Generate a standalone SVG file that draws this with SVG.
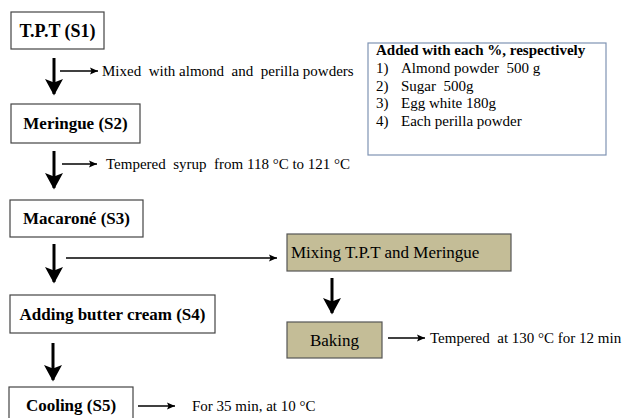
<svg xmlns="http://www.w3.org/2000/svg" width="623" height="418" viewBox="0 0 623 418">
<defs>
<marker id="big" markerWidth="6" markerHeight="6" refX="5" refY="3" orient="auto" markerUnits="strokeWidth">
<path d="M0,0 L5.5,3 L0,6 L1.2,3 Z" fill="#000"/>
</marker>
<marker id="small" markerWidth="10" markerHeight="8" refX="8" refY="4" orient="auto" markerUnits="userSpaceOnUse">
<path d="M0,0.5 L8,4 L0,7.5 L1.5,4 Z" fill="#000"/>
</marker>
</defs>
<style>
.box{fill:#fff;stroke:#444;stroke-width:1.2}
.khaki{fill:#c4bd97;stroke:#555;stroke-width:1.2}
.note{fill:#fff;stroke:#7f93b3;stroke-width:1.2}
.t{font-family:"Liberation Serif","Times New Roman",serif;fill:#000;white-space:pre}
.b{font-weight:bold;font-size:17px}
.s{font-size:15px}
.m{font-size:17px}
.big{stroke:#000;stroke-width:3;fill:none;marker-end:url(#big)}
.sm{stroke:#000;stroke-width:1.3;fill:none;marker-end:url(#small)}
</style>
<rect width="623" height="418" fill="#fff"/>
<g id="s1"><rect class="box" x="11" y="12" width="93" height="37"/><text class="t b" x="57.5" y="37" text-anchor="middle" style="font-size:18px">T.P.T (S1)</text></g>
<g id="s2"><rect class="box" x="11" y="104" width="129" height="39"/><text class="t b" x="75.5" y="129" text-anchor="middle">Meringue (S2)</text></g>
<g id="s3"><rect class="box" x="10" y="200" width="133" height="37"/><text class="t b" x="76.5" y="224" text-anchor="middle">Macaroné (S3)</text></g>
<g id="s4"><rect class="box" x="10" y="295" width="205" height="38"/><text class="t b" x="112.5" y="320" text-anchor="middle">Adding butter cream (S4)</text></g>
<g id="s5"><rect class="box" x="9" y="387" width="124" height="40"/><text class="t b" x="71" y="411" text-anchor="middle">Cooling (S5)</text></g>
<g id="mix"><rect class="khaki" x="287" y="234" width="224" height="37"/><text class="t m" x="291" y="258">Mixing T.P.T and Meringue</text></g>
<g id="bake"><rect class="khaki" x="287" y="322" width="95" height="36"/><text class="t m" x="334.5" y="346" text-anchor="middle">Baking</text></g>
<g id="note"><rect class="note" x="368" y="43" width="238" height="112"/>
<text class="t" font-size="15" font-weight="bold" x="376" y="55">Added with each %, respectively</text>
<text class="t s" x="376" y="73">1)</text><text class="t s" x="401" y="73">Almond powder  500 g</text>
<text class="t s" x="376" y="91">2)</text><text class="t s" x="401" y="91">Sugar  500g</text>
<text class="t s" x="376" y="108">3)</text><text class="t s" x="401" y="108">Egg white 180g</text>
<text class="t s" x="376" y="126">4)</text><text class="t s" x="401" y="126">Each perilla powder</text>
</g>
<g id="connectors">
<line class="big" x1="54" y1="58" x2="54" y2="94"/>
<line class="big" x1="54" y1="151" x2="54" y2="188"/>
<line class="big" x1="54" y1="244" x2="54" y2="282"/>
<line class="big" x1="53" y1="343" x2="53" y2="380"/>
<line class="big" x1="332" y1="278" x2="332" y2="313"/>
<line class="sm" x1="60" y1="71" x2="98" y2="71"/>
<line class="sm" x1="62" y1="164" x2="97" y2="164"/>
<line class="sm" x1="66" y1="258" x2="277" y2="258"/>
<line class="sm" x1="388" y1="338" x2="425" y2="338"/>
<line class="sm" x1="138" y1="406" x2="175" y2="406"/>
</g>
<g id="labels">
<text class="t s" x="102" y="76">Mixed  with almond  and  perilla powders</text>
<text class="t s" x="106" y="169">Tempered  syrup  from 118 °C to 121 °C</text>
<text class="t s" x="430" y="343">Tempered  at 130 °C for 12 min</text>
<text class="t s" x="192" y="411">For 35 min, at 10 °C</text>
</g>
</svg>
